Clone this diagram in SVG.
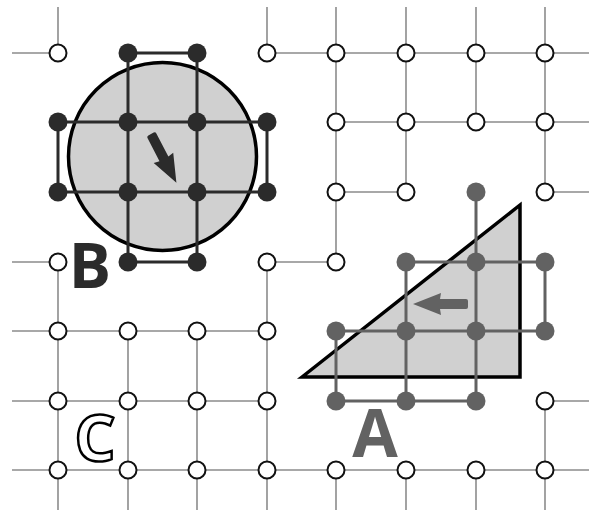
<svg xmlns="http://www.w3.org/2000/svg" width="589" height="516" viewBox="0 0 589 516">
<style>
.g{stroke:#8c8c8c;stroke-width:1.6;fill:none}
.o{fill:#fff;stroke:#111;stroke-width:2}
.bd{fill:#2b2b2b}
.be{stroke:#2b2b2b;stroke-width:3;fill:none}
.ad{fill:#626262}
.ae{stroke:#626262;stroke-width:3;fill:none}
.shape{fill:#d0d0d0;stroke:#000;stroke-width:3.5;stroke-linejoin:miter}
.lbl{font-family:"Open Sans","Liberation Sans",sans-serif;font-weight:700}
</style>
<defs>
<path id="arr" d="M2,-5 L28,-5 L27,-11 L55,0 L27,11 L28,5 L2,5 Q0,5 0,3 L0,-3 Q0,-5 2,-5 Z"/>
</defs>
<rect width="589" height="516" fill="#fff"/>
<g id="connectors">
<g id="grid-edges" class="g">
<path d="M12,53H58 M267,53H589 M336,122H589 M336,192H406 M545,192H589 M12,262H58 M267,262H336 M12,331H267 M12,401H267 M545,401H589 M12,470H589"/>
<path d="M58,7V53 M58,262V510 M128,331V510 M197,331V510 M267,7V53 M267,262V510 M336,7V262 M336,470V510 M406,7V192 M406,470V510 M476,7V122 M476,470V510 M545,7V192 M545,401V510"/>
</g>
</g>
<g id="shape-B"><circle class="shape" cx="162.5" cy="156.5" r="94"/></g>
<g id="shape-A"><polygon class="shape" points="302,377 520,205 520,377"/></g>
<g id="connectors-B" class="be">
<path d="M128,53H197 M128,53V262 M197,53V262 M58,122H267 M58,192H267 M58,122V192 M267,122V192 M128,262H197"/>
</g>
<g id="connectors-A" class="ae">
<path d="M476,192V401 M406,262V401 M336,331V401 M406,262H545 M336,331H545 M545,262V331 M336,401H476"/>
</g>
<g id="open-nodes" class="o">
<g id="n0-0"><circle cx="58" cy="53" r="8.5"/></g>
<g id="n0-3"><circle cx="267" cy="53" r="8.5"/></g>
<g id="n0-4"><circle cx="336" cy="53" r="8.5"/></g>
<g id="n0-5"><circle cx="406" cy="53" r="8.5"/></g>
<g id="n0-6"><circle cx="476" cy="53" r="8.5"/></g>
<g id="n0-7"><circle cx="545" cy="53" r="8.5"/></g>
<g id="n1-4"><circle cx="336" cy="122" r="8.5"/></g>
<g id="n1-5"><circle cx="406" cy="122" r="8.5"/></g>
<g id="n1-6"><circle cx="476" cy="122" r="8.5"/></g>
<g id="n1-7"><circle cx="545" cy="122" r="8.5"/></g>
<g id="n2-4"><circle cx="336" cy="192" r="8.5"/></g>
<g id="n2-5"><circle cx="406" cy="192" r="8.5"/></g>
<g id="n2-7"><circle cx="545" cy="192" r="8.5"/></g>
<g id="n3-0"><circle cx="58" cy="262" r="8.5"/></g>
<g id="n3-3"><circle cx="267" cy="262" r="8.5"/></g>
<g id="n3-4"><circle cx="336" cy="262" r="8.5"/></g>
<g id="n4-0"><circle cx="58" cy="331" r="8.5"/></g>
<g id="n4-1"><circle cx="128" cy="331" r="8.5"/></g>
<g id="n4-2"><circle cx="197" cy="331" r="8.5"/></g>
<g id="n4-3"><circle cx="267" cy="331" r="8.5"/></g>
<g id="n5-0"><circle cx="58" cy="401" r="8.5"/></g>
<g id="n5-1"><circle cx="128" cy="401" r="8.5"/></g>
<g id="n5-2"><circle cx="197" cy="401" r="8.5"/></g>
<g id="n5-3"><circle cx="267" cy="401" r="8.5"/></g>
<g id="n5-7"><circle cx="545" cy="401" r="8.5"/></g>
<g id="n6-0"><circle cx="58" cy="470" r="8.5"/></g>
<g id="n6-1"><circle cx="128" cy="470" r="8.5"/></g>
<g id="n6-2"><circle cx="197" cy="470" r="8.5"/></g>
<g id="n6-3"><circle cx="267" cy="470" r="8.5"/></g>
<g id="n6-4"><circle cx="336" cy="470" r="8.5"/></g>
<g id="n6-5"><circle cx="406" cy="470" r="8.5"/></g>
<g id="n6-6"><circle cx="476" cy="470" r="8.5"/></g>
<g id="n6-7"><circle cx="545" cy="470" r="8.5"/></g>
</g>
<g id="B-nodes" class="bd">
<g id="b0-1"><circle cx="128" cy="53" r="9.5"/></g>
<g id="b0-2"><circle cx="197" cy="53" r="9.5"/></g>
<g id="b1-0"><circle cx="58" cy="122" r="9.5"/></g>
<g id="b1-1"><circle cx="128" cy="122" r="9.5"/></g>
<g id="b1-2"><circle cx="197" cy="122" r="9.5"/></g>
<g id="b1-3"><circle cx="267" cy="122" r="9.5"/></g>
<g id="b2-0"><circle cx="58" cy="192" r="9.5"/></g>
<g id="b2-1"><circle cx="128" cy="192" r="9.5"/></g>
<g id="b2-2"><circle cx="197" cy="192" r="9.5"/></g>
<g id="b2-3"><circle cx="267" cy="192" r="9.5"/></g>
<g id="b3-1"><circle cx="128" cy="262" r="9.5"/></g>
<g id="b3-2"><circle cx="197" cy="262" r="9.5"/></g>
<use href="#arr" transform="translate(151,134) rotate(62.5)"/>
</g>
<g id="A-nodes" class="ad">
<g id="a2-6"><circle cx="476" cy="192" r="9.5"/></g>
<g id="a3-5"><circle cx="406" cy="262" r="9.5"/></g>
<g id="a3-6"><circle cx="476" cy="262" r="9.5"/></g>
<g id="a3-7"><circle cx="545" cy="262" r="9.5"/></g>
<g id="a4-4"><circle cx="336" cy="331" r="9.5"/></g>
<g id="a4-5"><circle cx="406" cy="331" r="9.5"/></g>
<g id="a4-6"><circle cx="476" cy="331" r="9.5"/></g>
<g id="a4-7"><circle cx="545" cy="331" r="9.5"/></g>
<g id="a5-4"><circle cx="336" cy="401" r="9.5"/></g>
<g id="a5-5"><circle cx="406" cy="401" r="9.5"/></g>
<g id="a5-6"><circle cx="476" cy="401" r="9.5"/></g>
<use href="#arr" transform="translate(468,304) rotate(180)"/>
</g>
<g id="labels">
<text class="lbl" x="90" y="288" font-size="63" text-anchor="middle" fill="#2b2b2b">B</text>
<text class="lbl" x="375" y="457" font-size="66" text-anchor="middle" fill="#626262">A</text>
<text class="lbl" x="95" y="461" font-size="65" text-anchor="middle" fill="#fff" stroke="#000" stroke-width="2.5">C</text>
</g>
</svg>
